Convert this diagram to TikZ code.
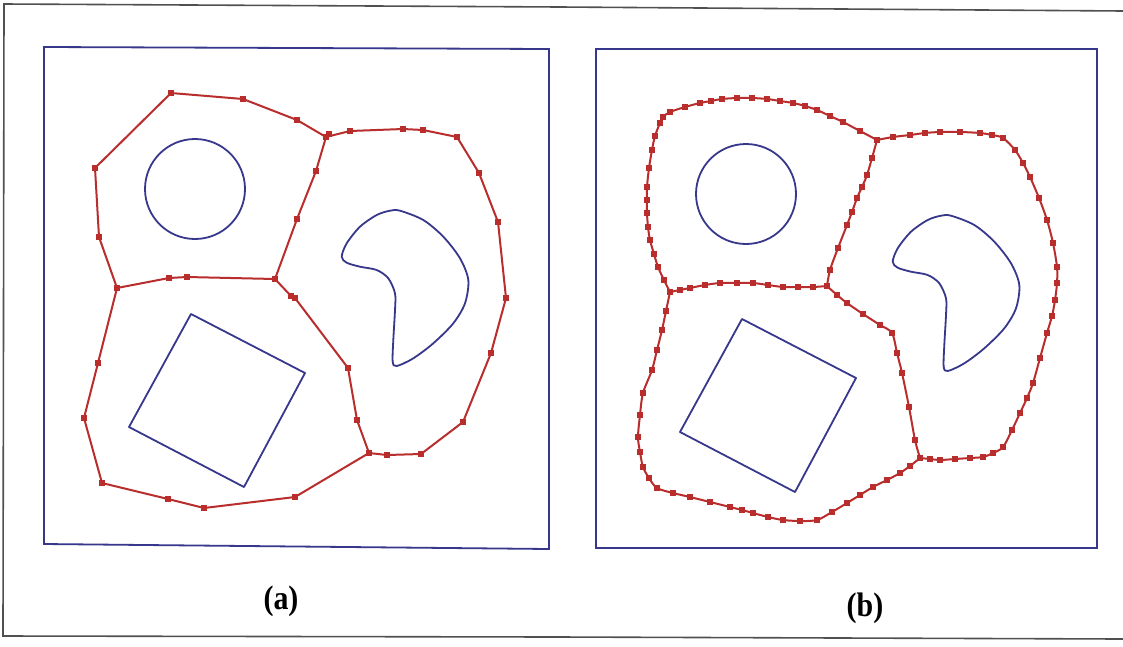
\documentclass[tikz,border=0pt]{standalone}
\usepackage{fontspec}
\setmainfont{Liberation Serif}
\definecolor{cred}{RGB}{185,45,45}
\definecolor{cblue}{RGB}{55,55,140}
\definecolor{cframe}{RGB}{80,80,80}
\tikzset{
  redline/.style={draw=cred, line width=2pt, line join=round},
  blueline/.style={draw=cblue, line width=1.8pt, line join=round},
  boxline/.style={draw=cblue, line width=1.8pt},
  dotsq/.style={fill=cred},
  lbl/.style={font=\bfseries\fontsize{34}{34}\selectfont, inner sep=0pt, xscale=0.88}
}
\newcommand{\bluecontents}{%
  \draw[blueline] (195,189) circle[radius=50pt];
  \draw[blueline] (191,314) -- (305,373) -- (244,487) -- (129,427) -- cycle;
  \draw[blueline] plot[smooth cycle, tension=0.5] coordinates {(341.7,256.7) (346.7,243.3) (360,226.7) (376.7,215) (390,210.7) (400,210.7) (423.3,220) (443.3,236.7) (460,258.3) (468.3,280) (465,303.3) (453.3,323.3) (433.3,343.3) (413.3,358.3) (396.7,366) (392.7,361.7) (393.3,340) (395,310) (395,293.3) (388.3,278.3) (376.7,270) (360,266.7) (346.7,262.7)};
}
\newcommand{\reddots}[1]{\foreach \x/\y in {#1} \fill[dotsq] (\x-2.6,\y-2.6) rectangle (\x+2.6,\y+2.6);}
\begin{document}
\begin{tikzpicture}[x=1pt,y=-1pt]
\useasboundingbox (0,0) rectangle (1123,646);
\fill[white] (0,0) rectangle (1123,646);
% outer scanned frame
\draw[cframe, line width=1.6pt] (1123,11) -- (560,7) -- (4,4) -- (3,636) -- (560,637) -- (1123,639);
% panel boxes
\draw[boxline] (44,47) -- (549,49) -- (549,549) -- (44,544) -- cycle;
\draw[boxline] (596,49) -- (1097,49) -- (1097,548) -- (596,548) -- cycle;
% ---------------- panel (a) ----------------
\bluecontents
\coordinate (A1) at (326,137);
\coordinate (A2) at (117,288);
\coordinate (A3) at (275,279);
\coordinate (A4) at (369,453);
\draw[redline] (A1) -- (297,120) -- (243,99) -- (171,93) -- (95,168) -- (99,237) -- (A2) -- (169,278) -- (187,277) -- (A3) -- (297,219) -- (316,171) -- cycle;
\draw[redline] (A1) -- (350,131) -- (403,129) -- (423,130) -- (457,137) -- (479,173) -- (498,222) -- (506,298) -- (491,353) -- (463,422) -- (421,454) -- (387,455) -- (A4) -- (357,420) -- (348,368) -- (295,298) -- (291,296) -- (A3);
\draw[redline] (A2) -- (98,363) -- (84,418) -- (102,483) -- (168,499) -- (204,508) -- (295,497) -- (A4);
\reddots{326/137,297/120,243/99,171/93,95/168,99/237,117/288,169/278,187/277,275/279,297/219,316/171,
  350/131,403/129,423/130,457/137,479/173,498/222,506/298,491/353,463/422,421/454,387/455,369/453,357/420,348/368,295/298,291/296,
  98/363,84/418,102/483,168/499,204/508,295/497,329/134}
\node[lbl] (la) at (281,601) {(a)};
% ---------------- panel (b) ----------------
\begin{scope}[shift={(551,5)}]
\bluecontents
\end{scope}
\coordinate (B1) at (877,140);
\coordinate (B2) at (670,292);
\coordinate (B3) at (827,286);
\coordinate (B4) at (920,458);
\draw[redline] plot[smooth, tension=0.5] coordinates {(877,140) (860,131) (843,122) (830,116) (817,110) (805,106) (793,103) (780,101) (767,99) (752,98) (737,98) (722,99) (711,101) (700,103) (685,107) (670,112) (663,117) (660,123) (655,136) (652,150) (649,168) (647,187) (647,200) (647,213) (648,227) (650,240) (654,254) (658,267) (664,280) (670,292)};
\reddots{877/140,860/131,843/122,830/116,817/110,805/106,793/103,780/101,767/99,752/98,737/98,722/99,711/101,700/103,685/107,670/112,663/117,660/123,655/136,652/150,649/168,647/187,647/200,647/213,648/227,650/240,654/254,658/267,664/280,670/292}
\draw[redline] plot[smooth, tension=0.5] coordinates {(670,292) (680,290) (690,288) (705,285) (720,283) (737,283) (753,283) (768,285) (783,287) (798,287) (813,287) (827,286)};
\reddots{680/290,690/288,705/285,720/283,737/283,753/283,768/285,783/287,798/287,813/287,827/286}
\draw[redline] plot[smooth, tension=0.5] coordinates {(827,286) (830,270) (838,248) (847,225) (852,212) (857,198) (862,187) (867,175) (872,158) (877,140)};
\reddots{830/270,838/248,847/225,852/212,857/198,862/187,867/175,872/158}
\draw[redline] plot[smooth, tension=0.5] coordinates {(877,140) (893,137) (910,135) (925,133) (940,132) (960,132) (980,133) (992,135) (1003,138) (1015,150) (1023,163) (1030,177) (1039,198) (1047,220) (1053,243) (1057,267) (1057,283) (1055,300) (1052,316) (1047,333) (1040,358) (1033,383) (1027,398) (1020,413) (1012,430) (1003,447) (993,453) (983,457) (970,458) (955,459) (940,460) (930,459) (920,458)};
\reddots{893/137,910/135,925/133,940/132,960/132,980/133,992/135,1003/138,1015/150,1023/163,1030/177,1039/198,1047/220,1053/243,1057/267,1057/283,1055/300,1052/316,1047/333,1040/358,1033/383,1027/398,1020/413,1012/430,1003/447,993/453,983/457,970/458,955/459,940/460,930/459,920/458}
\draw[redline] plot[smooth, tension=0.5] coordinates {(920,458) (915,440) (909,407) (902,373) (897,353) (892,333) (880,325) (863,314) (847,303) (837,295) (827,286)};
\reddots{915/440,909/407,902/373,897/353,892/333,880/325,863/314,847/303,837/295}
\draw[redline] plot[smooth, tension=0.5] coordinates {(670,292) (666,311) (662,330) (657,350) (652,370) (643,393) (640,415) (638,437) (640,452) (643,467) (649,478) (657,488) (673,493) (690,497) (710,502) (730,507) (742,510) (753,513) (768,517) (783,520) (800,521) (817,520) (832,512) (847,503) (860,495) (873,487) (887,480) (900,473) (910,466) (920,458)};
\reddots{666/311,662/330,657/350,652/370,643/393,640/415,638/437,640/452,643/467,649/478,657/488,673/493,690/497,710/502,730/507,742/510,753/513,768/517,783/520,800/521,817/520,832/512,847/503,860/495,873/487,887/480,900/473,910/466}
\node[lbl] (lb) at (865,608) {(b)};
\end{tikzpicture}
\end{document}
